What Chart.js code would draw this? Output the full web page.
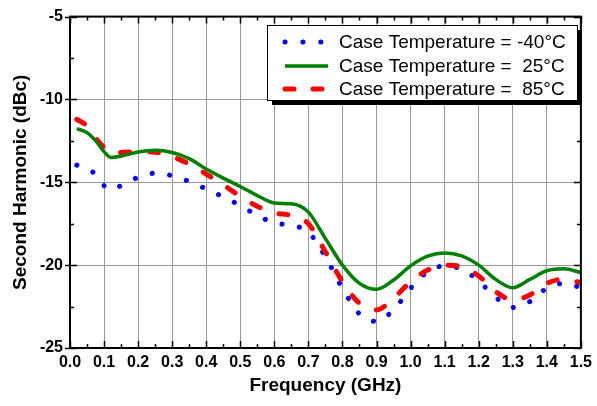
<!DOCTYPE html>
<html>
<head>
<meta charset="utf-8">
<script src="https://cdn.jsdelivr.net/npm/chart.js@4.4.1/dist/chart.umd.min.js"></script>
<style>
  html, body { margin: 0; padding: 0; background: #fff; }
  #wrap { width: 597px; height: 406px; }
</style>
</head>
<body>
<div id="wrap"><canvas id="harmonicChart"></canvas></div>
<script>
// frequency points (GHz)
const freq = [0.02, 0.05, 0.08, 0.1, 0.12, 0.15, 0.2, 0.25, 0.3, 0.35, 0.4, 0.45, 0.5, 0.55, 0.6, 0.65, 0.7,
  0.75, 0.8, 0.85, 0.9, 0.95, 1.0, 1.05, 1.1, 1.15, 1.2, 1.25, 1.3, 1.35, 1.4, 1.45, 1.5];

const tempMinus40 = [-13.96, -14.2, -14.6, -15.2, -15.45, -15.2, -14.7, -14.45, -14.6, -14.95, -15.4, -15.88, -16.4,
  -17.0, -17.45, -17.6, -18.0, -19.5, -21.4, -22.95, -23.4, -22.7, -21.4, -20.4, -20.05, -20.25, -20.95,
  -21.95, -22.55, -22.2, -21.4, -21.1, -21.35];
const temp25 = [-11.76, -12.0, -12.6, -13.15, -13.5, -13.42, -13.17, -13.07, -13.2, -13.57, -14.2, -14.75, -15.25,
  -15.8, -16.25, -16.3, -16.8, -18.4, -20.0, -21.1, -21.46, -20.9, -20.04, -19.46, -19.26, -19.44, -20.0,
  -20.86, -21.36, -20.86, -20.34, -20.22, -20.44];
const temp85 = [-11.2, -11.6, -12.45, -12.9, -13.2, -13.2, -13.14, -13.18, -13.45, -13.9, -14.5, -15.15, -15.85,
  -16.45, -16.85, -17.0, -17.5, -19.2, -21.0, -22.3, -22.7, -22.0, -21.0, -20.3, -20.0, -20.08, -20.65,
  -21.6, -22.1, -21.8, -21.1, -20.85, -21.06];

const seriesLabels = ["Case Temperature = -40\u00B0C", "Case Temperature =  25\u00B0C", "Case Temperature =  85\u00B0C"];
const xTicks = [0.0, 0.1, 0.2, 0.3, 0.4, 0.5, 0.6, 0.7, 0.8, 0.9, 1.0, 1.1, 1.2, 1.3, 1.4, 1.5];
const yTicks = [-25, -20, -15, -10, -5];

function pts(vals) {
  return freq.map((f, i) => ({ x: f, y: vals[i] }));
}

// frame, inward ticks and the boxed legend drawn over the plot
const framePlugin = {
  id: "frame",
  afterDatasetsDraw(chart) {
    const ctx = chart.ctx;
    const a = chart.chartArea;
    const xs = chart.scales.x, ys = chart.scales.y;
    ctx.save();
    ctx.strokeStyle = "#000";
    ctx.lineWidth = 2;
    ctx.strokeRect(a.left, a.top, a.right - a.left, a.bottom - a.top);

    ctx.lineWidth = 1.5;
    ctx.beginPath();
    for (let i = 0; i <= 30; i++) {
      const px = Math.round(xs.getPixelForValue(i * 0.05)) + 0.5;
      const len = i % 2 === 0 ? 7 : 4;
      ctx.moveTo(px, a.bottom); ctx.lineTo(px, a.bottom - len);
      ctx.moveTo(px, a.top); ctx.lineTo(px, a.top + len);
    }
    for (let i = 0; i <= 8; i++) {
      const py = Math.round(ys.getPixelForValue(-25 + i * 2.5)) + 0.5;
      const major = i % 2 === 0;
      const len = major ? 7 : 4;
      ctx.moveTo(major ? a.left - 5 : a.left, py); ctx.lineTo(a.left + len, py);
      ctx.moveTo(a.right, py); ctx.lineTo(a.right - len, py);
    }
    ctx.stroke();

    // legend box
    const bx = 267, by = 25, bw = 310, bh = 75;
    ctx.fillStyle = "#000";
    ctx.fillRect(bx + 5, by + 5, bw, bh);
    ctx.fillStyle = "#fff";
    ctx.fillRect(bx, by, bw, bh);
    ctx.lineWidth = 1;
    ctx.strokeRect(bx + 0.5, by + 0.5, bw, bh);

    const rows = [42, 66, 89];
    chart.data.datasets.forEach((ds, i) => {
      const y = rows[i];
      ctx.strokeStyle = ds.borderColor;
      ctx.lineWidth = ds.borderWidth;
      ctx.lineCap = ds.borderCapStyle || "butt";
      ctx.setLineDash(ds.legendDash || []);
      ctx.beginPath();
      ctx.moveTo(285, y);
      ctx.lineTo(328, y);
      ctx.stroke();
      ctx.setLineDash([]);
      ctx.fillStyle = "#000";
      ctx.font = "19px 'Liberation Sans', Arial, sans-serif";
      ctx.textBaseline = "middle";
      ctx.textAlign = "left";
      ctx.fillText(ds.label, 339, y + 1);
    });
    ctx.restore();
  }
};

const ctx = document.getElementById("harmonicChart").getContext("2d");
new Chart(ctx, {
  type: "line",
  data: {
    datasets: [
      {
        label: seriesLabels[0],
        data: pts(tempMinus40),
        borderColor: "#0000ff",
        borderWidth: 5,
        borderCapStyle: "round",
        borderDash: [0.1, 17.5],
        legendDash: [0.1, 17.8],
        pointRadius: 0,
        cubicInterpolationMode: "monotone",
        order: 3,
      },
      {
        label: seriesLabels[1],
        data: pts(temp25),
        borderColor: "#008000",
        borderWidth: 3.5,
        pointRadius: 0,
        cubicInterpolationMode: "monotone",
        order: 1,
      },
      {
        label: seriesLabels[2],
        data: pts(temp85),
        borderColor: "#ff0000",
        borderWidth: 5,
        borderCapStyle: "round",
        borderDash: [9, 20],
        legendDash: [9, 19],
        pointRadius: 0,
        cubicInterpolationMode: "monotone",
        order: 2,
      },
    ],
  },
  options: {
    responsive: true,
    maintainAspectRatio: false,
    animation: false,
    layout: {
      padding: { top: 15, right: 11, left: 0, bottom: 0 },
    },
    plugins: {
      legend: { display: false },
      tooltip: { enabled: false },
    },
    scales: {
      x: {
        type: "linear",
        min: 0,
        max: 1.5,
        afterBuildTicks: (scale) => {
          scale.ticks = xTicks.map((v) => ({ value: v }));
        },
        afterFit: (scale) => {
          scale.height = 58;
        },
        ticks: {
          color: "#000",
          padding: 5,
          font: { family: "'Liberation Sans', Arial, sans-serif", size: 16, weight: "bold" },
          callback: (v) => Number(v).toFixed(1),
        },
        grid: { color: "#999", lineWidth: 1, drawTicks: false },
        border: { display: false },
        title: {
          display: true,
          text: "Frequency (GHz)",
          color: "#000",
          padding: { top: 0, bottom: 9 },
          font: { family: "'Liberation Sans', Arial, sans-serif", size: 19, weight: "bold" },
        },
      },
      y: {
        min: -25,
        max: -5,
        afterBuildTicks: (scale) => {
          scale.ticks = yTicks.map((v) => ({ value: v }));
        },
        afterFit: (scale) => {
          scale.width = 70;
        },
        ticks: {
          color: "#000",
          padding: 7,
          font: { family: "'Liberation Sans', Arial, sans-serif", size: 16, weight: "bold" },
        },
        grid: { color: "#999", lineWidth: 1, drawTicks: false },
        border: { display: false },
        title: {
          display: true,
          text: "Second Harmonic (dBc)",
          color: "#000",
          padding: { top: 9, bottom: 0 },
          font: { family: "'Liberation Sans', Arial, sans-serif", size: 19, weight: "bold" },
        },
      },
    },
  },
  plugins: [framePlugin],
});
</script>
</body>
</html>
